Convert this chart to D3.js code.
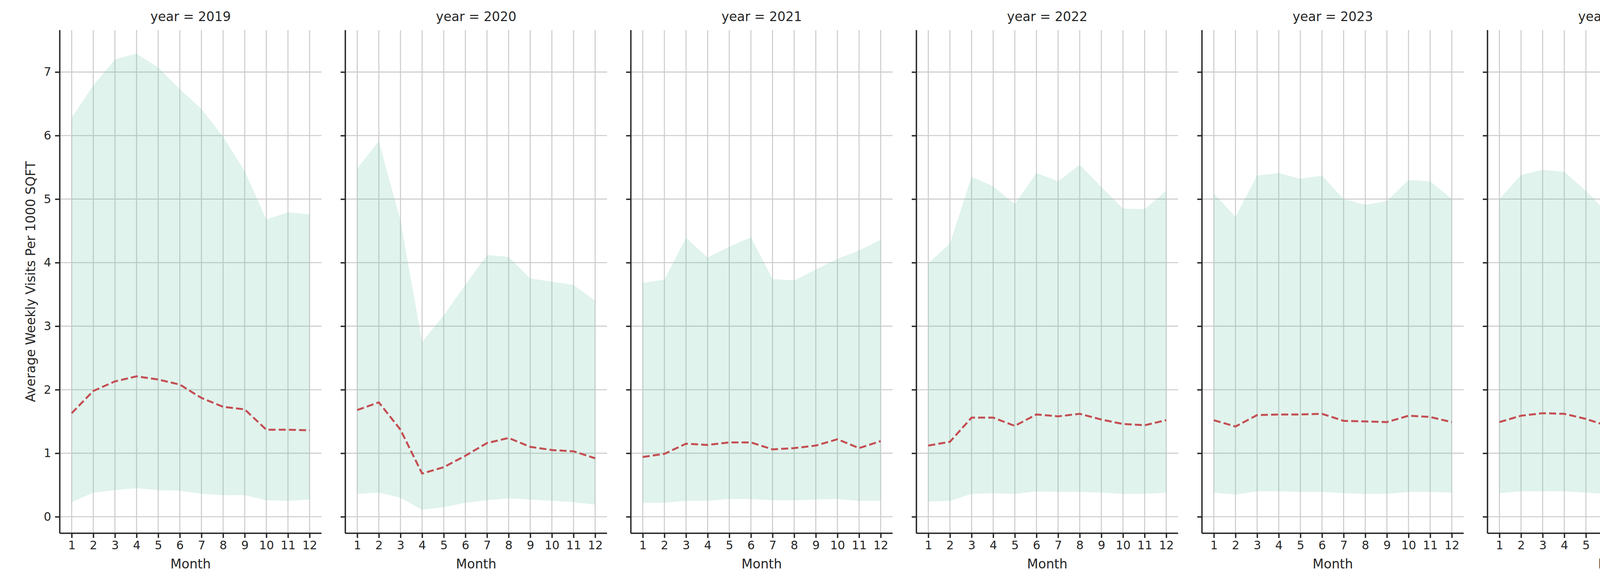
<!DOCTYPE html>
<html><head><meta charset="utf-8">
<script src="https://cdn.jsdelivr.net/npm/d3@7"></script>
<style>body{margin:0;background:#fff}</style></head>
<body><svg id="c" width="5250" height="1500"></svg>
<script>
const years=[2019,2020,2021,2022,2023,2024,2025];
const months=[1,2,3,4,5,6,7,8,9,10,11,12];
const yTicks=[0,1,2,3,4,5,6,7];
const median=[
[1.63,1.98,2.13,2.21,2.16,2.08,1.87,1.73,1.69,1.37,1.37,1.36],
[1.68,1.80,1.37,0.68,0.78,0.96,1.16,1.24,1.10,1.05,1.03,0.92],
[0.94,0.99,1.15,1.13,1.17,1.17,1.06,1.08,1.12,1.22,1.08,1.19],
[1.12,1.18,1.56,1.56,1.43,1.61,1.58,1.62,1.53,1.46,1.44,1.52],
[1.52,1.42,1.60,1.61,1.61,1.62,1.51,1.50,1.49,1.59,1.57,1.49],
[1.49,1.59,1.63,1.62,1.54,1.43,1.43,1.56,1.44,1.46,1.43,1.44],
[1.51,1.39,1.47,1.47,1.47]];
const p75=[
[6.28,6.79,7.20,7.29,7.07,6.73,6.42,5.98,5.44,4.68,4.79,4.76],
[5.48,5.91,4.66,2.75,3.17,3.65,4.12,4.09,3.75,3.70,3.65,3.40],
[3.68,3.73,4.39,4.08,4.25,4.40,3.74,3.72,3.89,4.06,4.19,4.36],
[3.99,4.30,5.35,5.20,4.92,5.41,5.28,5.54,5.19,4.85,4.84,5.13],
[5.09,4.72,5.37,5.41,5.32,5.37,5.00,4.91,4.97,5.30,5.28,5.00],
[5.00,5.38,5.46,5.43,5.13,4.78,4.81,5.19,4.78,4.86,4.75,4.83],
[5.06,4.67,5.00,4.91,4.96]];
const p25=[
[0.23,0.38,0.42,0.45,0.42,0.41,0.36,0.34,0.34,0.26,0.25,0.27],
[0.36,0.38,0.30,0.11,0.15,0.22,0.26,0.29,0.27,0.25,0.23,0.19],
[0.22,0.22,0.25,0.25,0.28,0.28,0.26,0.26,0.27,0.28,0.25,0.25],
[0.24,0.25,0.36,0.37,0.36,0.40,0.39,0.39,0.38,0.36,0.36,0.38],
[0.38,0.35,0.40,0.40,0.39,0.39,0.37,0.36,0.36,0.39,0.39,0.38],
[0.37,0.40,0.40,0.40,0.38,0.36,0.36,0.39,0.36,0.36,0.35,0.35],
[0.37,0.34,0.36,0.36,0.36]];

const svg=d3.select("#c");
const left0=153, step=731, pw=670, plotTop=77, plotBottom=1365;
const font="DejaVu Sans, sans-serif", dark="#262626";
const y=d3.scaleLinear().domain([-0.26,7.66]).range([plotBottom,plotTop]);
years.forEach((yr,i)=>{
  const x0=left0+i*step;
  const x=d3.scaleLinear().domain([0.45,12.55]).range([x0,x0+pw]);
  const g=svg.append("g");
  g.selectAll(".gy").data(yTicks).join("line").attr("x1",x0).attr("x2",x0+pw)
   .attr("y1",d=>y(d)).attr("y2",d=>y(d)).attr("stroke","#cccccc").attr("stroke-width",2.6);
  g.selectAll(".gx").data(months).join("line").attr("x1",d=>x(d)).attr("x2",d=>x(d))
   .attr("y1",plotTop).attr("y2",plotBottom).attr("stroke","#cccccc").attr("stroke-width",2.6);
  const n=median[i].length;
  const pts=d3.range(n).map(j=>({m:months[j],lo:p25[i][j],hi:p75[i][j],md:median[i][j]}));
  g.append("path").datum(pts).attr("d",d3.area().x(d=>x(d.m)).y0(d=>y(d.lo)).y1(d=>y(d.hi)))
   .attr("fill","#66c2a5").attr("fill-opacity",0.2);
  g.append("path").datum(pts).attr("d",d3.line().x(d=>x(d.m)).y(d=>y(d.md)))
   .attr("fill","none").attr("stroke","#c44e52").attr("stroke-width",5).attr("stroke-dasharray","18,8");
  const ax=g.append("g").attr("transform",`translate(0,${plotBottom})`)
   .call(d3.axisBottom(x).tickValues(months).tickSize(12).tickPadding(8));
  const ay=g.append("g").attr("transform",`translate(${x0},0)`)
   .call(d3.axisLeft(y).tickValues(yTicks).tickSize(12).tickPadding(10).tickFormat(i===0?d3.format("d"):()=>""));
  [ax,ay].forEach(a=>{a.select(".domain").attr("stroke",dark).attr("stroke-width",3.5);
    a.selectAll(".tick line").attr("stroke",dark).attr("stroke-width",3.5);
    a.selectAll("text").attr("fill",dark).attr("font-family",font).attr("font-size",30);});
  ax.select(".domain").attr("d",`M${x0},0H${x0+pw}`);
  ay.select(".domain").attr("d",`M0,${plotTop}V${plotBottom}`);
  g.append("text").attr("x",x0+pw/2).attr("y",54).attr("text-anchor","middle")
   .attr("font-family",font).attr("font-size",33).attr("fill",dark).text(`year = ${yr}`);
  g.append("text").attr("x",x0+pw/2).attr("y",1455).attr("text-anchor","middle")
   .attr("font-family",font).attr("font-size",33).attr("fill",dark).text("Month");
});
svg.append("text").attr("transform",`translate(90,${(plotTop+plotBottom)/2}) rotate(-90)`)
 .attr("text-anchor","middle").attr("font-family",font).attr("font-size",33).attr("fill",dark)
 .text("Average Weekly Visits Per 1000 SQFT");
const lg=svg.append("g").attr("transform","translate(4754,120)");
lg.append("rect").attr("width",454).attr("height",108).attr("rx",6).attr("fill","#fff")
 .attr("fill-opacity",0.8).attr("stroke","#cccccc").attr("stroke-width",2.5);
lg.append("line").attr("x1",16).attr("x2",80).attr("y1",30).attr("y2",30)
 .attr("stroke","#c44e52").attr("stroke-width",5).attr("stroke-dasharray","18,8");
lg.append("rect").attr("x",16).attr("y",66).attr("width",64).attr("height",22)
 .attr("fill","#66c2a5").attr("fill-opacity",0.2);
lg.append("text").attr("x",104).attr("y",41).attr("font-family",font).attr("font-size",31).attr("fill",dark).text("Median");
lg.append("text").attr("x",104).attr("y",88).attr("font-family",font).attr("font-size",31).attr("fill",dark).text("25th-75th Percentile");
</script></body></html>
